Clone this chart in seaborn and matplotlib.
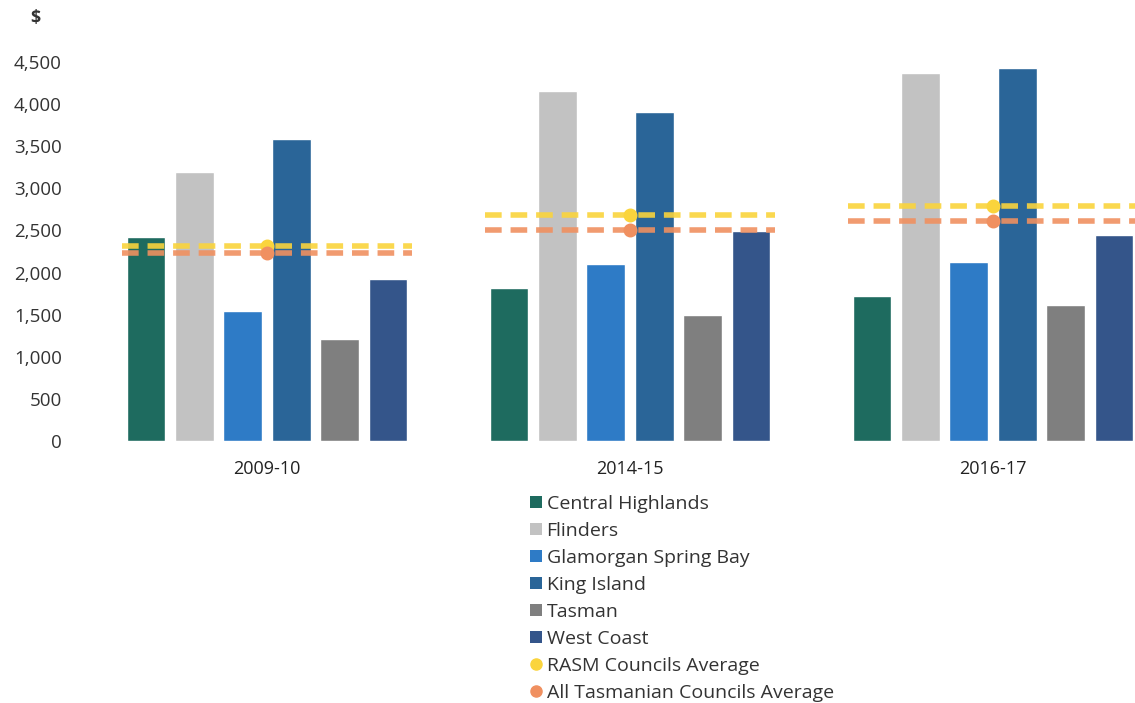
import matplotlib
matplotlib.use("Agg")
import matplotlib.pyplot as plt
import seaborn as sns
import pandas as pd
import numpy as np
from matplotlib.patches import Patch
from matplotlib.lines import Line2D
from matplotlib.ticker import FuncFormatter

years = ["2009-10", "2014-15", "2016-17"]
councils = ["Central Highlands", "Flinders", "Glamorgan Spring Bay",
            "King Island", "Tasman", "West Coast"]
central_highlands = [2420, 1815, 1720]
flinders = [3190, 4150, 4370]
glamorgan = [1545, 2100, 2125]
king_island = [3590, 3910, 4430]
tasman = [1210, 1495, 1615]
west_coast = [1925, 2495, 2445]
rasm_avg = [2310, 2680, 2790]
all_tas_avg = [2230, 2500, 2610]
avg_names = ["RASM Councils Average", "All Tasmanian Councils Average"]

bar_colors = ["#1e6b5f", "#c2c2c2", "#2e7bc6", "#2a6598", "#7f7f7f", "#34558a"]
avg_colors = ["#fad43c", "#f09060"]

series = [central_highlands, flinders, glamorgan, king_island, tasman, west_coast]
rows = []
for name, vals in zip(councils, series):
    for y, v in zip(years, vals):
        rows.append({"year": y, "council": name, "value": v})
df = pd.DataFrame(rows)

avg_rows = []
for name, vals in zip(avg_names, [rasm_avg, all_tas_avg]):
    for y, v in zip(years, vals):
        avg_rows.append({"year": y, "series": name, "value": v})
adf = pd.DataFrame(avg_rows)

sns.set_theme(style="white")
plt.rcParams["font.family"] = ["Open Sans", "DejaVu Sans"]

W, H = 1135, 703
fig = plt.figure(figsize=(W / 100, H / 100), dpi=100)
left_px, right_px, top_px, bot_px = 85.5, 1135, 62, 441
ax = fig.add_axes([left_px / W, 1 - bot_px / H, (right_px - left_px) / W, (bot_px - top_px) / H])

sns.barplot(data=df, x="year", y="value", hue="council", order=years,
            hue_order=councils, palette=bar_colors, width=0.8, gap=0.2,
            saturation=1, legend=False, ax=ax)

for name, vals, c in zip(avg_names, [rasm_avg, all_tas_avg], avg_colors):
    xs = np.arange(len(years))
    ax.hlines(vals, xs - 0.4, xs + 0.4, colors=c, linewidth=4,
              linestyles=(0, (3, 1.6)), alpha=0.9, zorder=3)

sns.pointplot(data=adf, x="year", y="value", hue="series", order=years,
              hue_order=avg_names, palette=avg_colors, linestyle="none",
              markers="o", markersize=8, dodge=False, legend=False, ax=ax,
              zorder=4)

ax.set_xlim(-0.5, -0.5 + (right_px - left_px) / 363)
ax.set_ylim(0, 4500)
ax.set_yticks(np.arange(0, 4501, 500))
ax.yaxis.set_major_formatter(FuncFormatter(lambda v, p: f"{int(v):,}"))
ax.tick_params(axis="y", length=0, pad=17, labelsize=13.5, labelcolor="#333333")
ax.tick_params(axis="x", length=0, pad=14, labelsize=13, labelcolor="#222222")
ax.set_xlabel("")
ax.set_ylabel("")
for s in ax.spines.values():
    s.set_visible(False)
ax.grid(False)

fig.text(30 / W, 1 - 18 / H, "$", fontsize=13, color="#333333",
         ha="left", va="center", fontweight="bold")

handles = [Patch(facecolor=c, edgecolor="none") for c in bar_colors]
handles += [Line2D([], [], marker="o", linestyle="none", color=c, markersize=8)
            for c in avg_colors]
labels = councils + avg_names
fig.legend(handles, labels, loc="upper left",
           bbox_to_anchor=(530 / W, 1 - 495 / H), frameon=False,
           fontsize=14, handlelength=0.6, handleheight=0.6,
           handletextpad=0.25, labelspacing=0.46, borderaxespad=0,
           borderpad=0, labelcolor="#333333")

fig.savefig("out.png", dpi=100)
